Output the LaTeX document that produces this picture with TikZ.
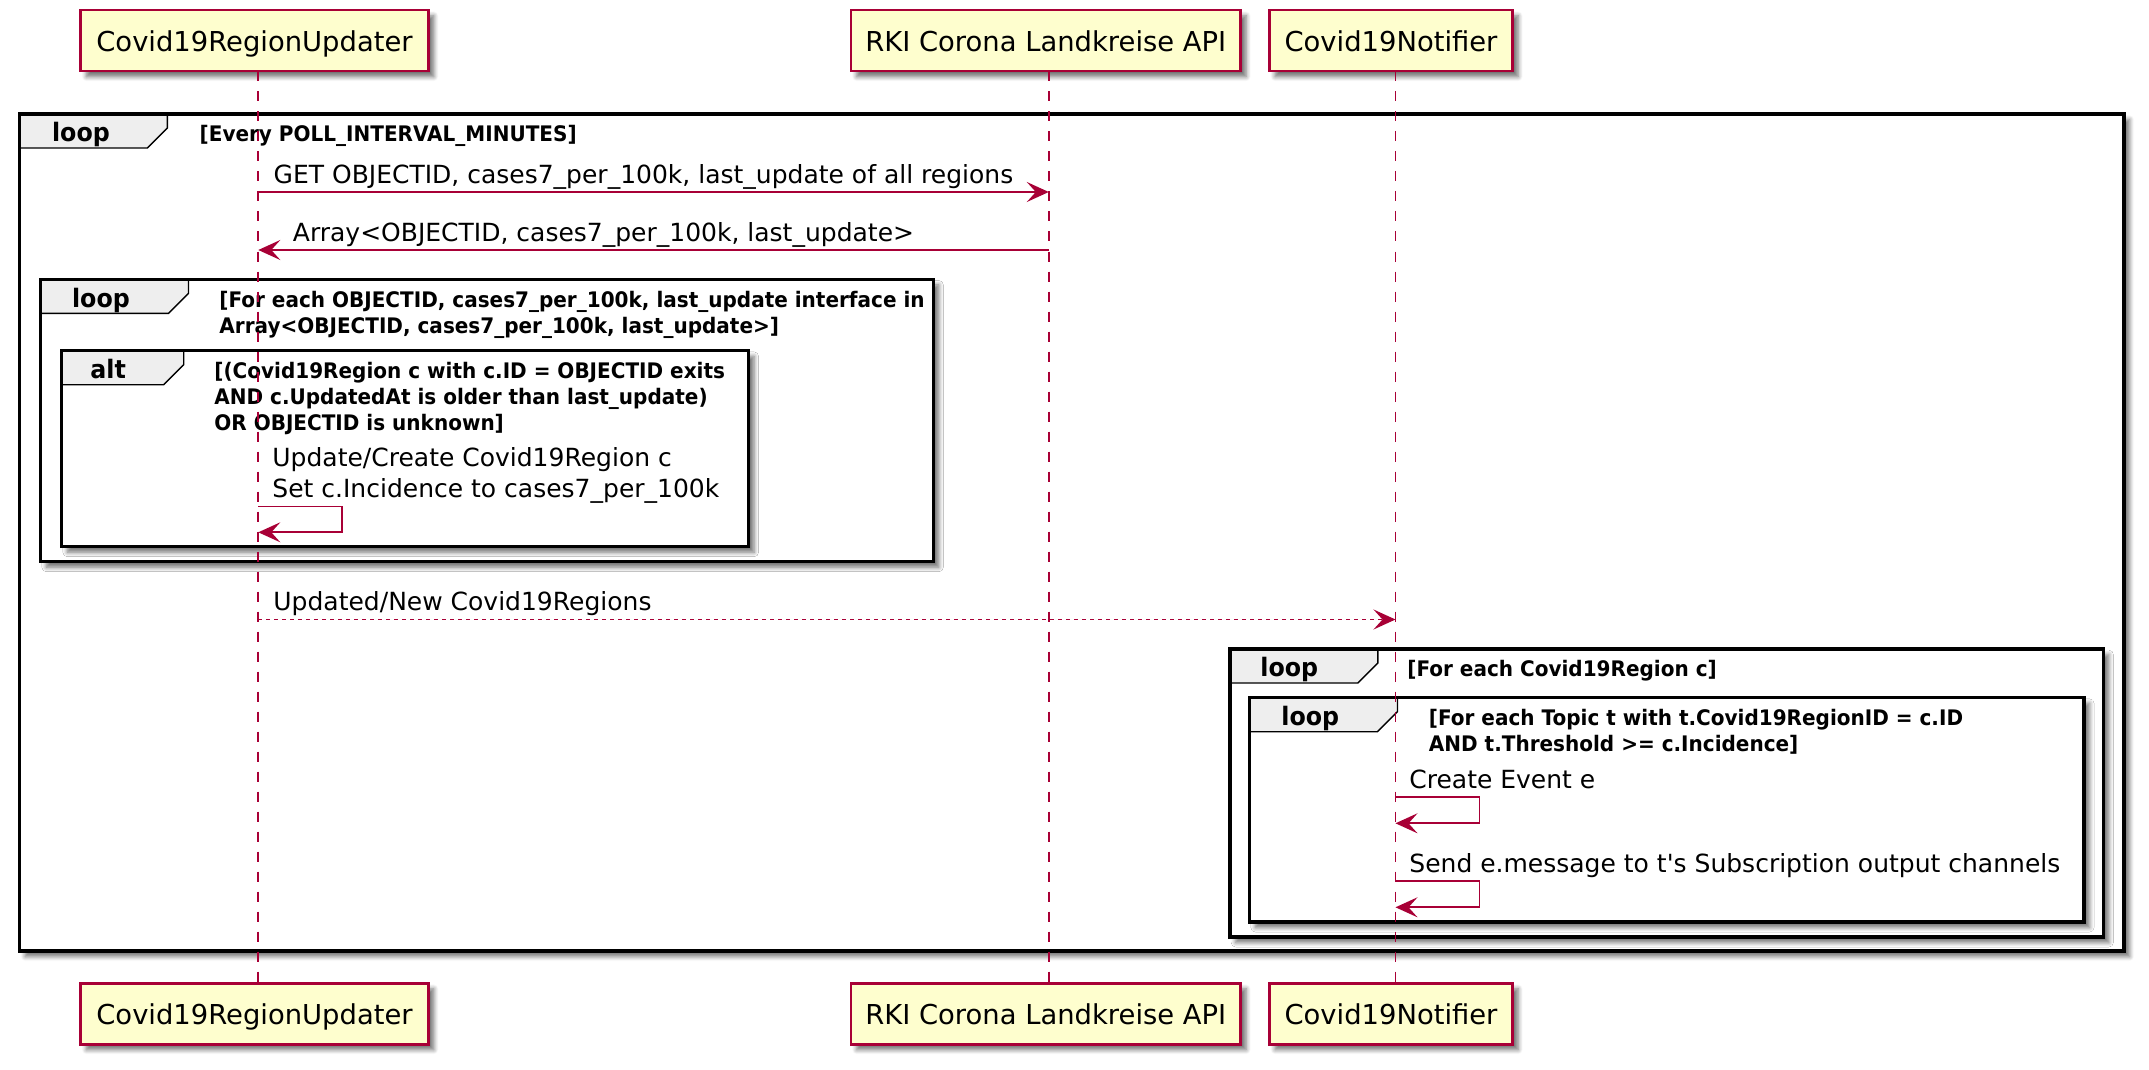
\documentclass[tikz,border=0pt]{standalone}
\usepackage{fontspec}
\setmainfont{DejaVu Sans}[Ligatures=TeXOff]
\newfontfamily\boldcond{DejaVu Sans Bold}[FakeStretch=0.935,Ligatures=TeXOff]
\usetikzlibrary{arrows.meta,shadows.blur}
\definecolor{umlred}{HTML}{A80036}
\definecolor{umlfill}{HTML}{FEFECE}
\definecolor{tabfill}{HTML}{EEEEEE}
\tikzset{
  shad/.style={blur shadow={shadow xshift=2.8pt,shadow yshift=-2.8pt,shadow blur radius=2.2pt,shadow blur steps=6,shadow opacity=55}},
  part/.style={draw=umlred,line width=1.3pt,fill=umlfill,shad,inner sep=0pt,
    minimum height=30.5pt,text height=11pt,text depth=0pt,
    font=\fontsize{13.7pt}{16pt}\selectfont},
  framebg/.style={fill=white,shad},
  frameline/.style={draw=black,line width=1.6pt},
  tabst/.style={draw=black,line width=0.7pt,fill=tabfill},
  tabtext/.style={anchor=base west,inner sep=0pt,font=\fontsize{12.7pt}{15pt}\boldcond},
  hdr/.style={anchor=base west,inner sep=0pt,font=\fontsize{10.7pt}{13pt}\boldcond},
  mtext/.style={anchor=base west,inner sep=0pt,font=\fontsize{12.5pt}{15.5pt}\selectfont},
  lifeline/.style={draw=umlred,line width=0.9pt,dash pattern=on 5pt off 5pt},
  msg/.style={draw=umlred,line width=0.9pt,-{Stealth[length=11pt,width=10pt,inset=4.5pt]}},
  dmsg/.style={msg,dash pattern=on 2pt off 2pt},
}
\begin{document}
\begin{tikzpicture}[x=0.5pt,y=-0.5pt]
\useasboundingbox (0,0) rectangle (2149,1070);

% ---------- outer loop ----------
\path[framebg] (19.6,114) rectangle (2124,951);
\draw[tabst] (19.6,114) -- (167.4,114) -- (167.4,128) -- (147.4,148) -- (19.6,148) -- cycle;
\draw[frameline] (19.6,114) rectangle (2124,951);
\node[tabtext] (g1t) at (51.7,141.7) {loop};
\node[hdr] (g1h) at (199.3,141.7) {[Every POLL\_INTERVAL\_MINUTES]};

% ---------- loop over objects ----------
\path[framebg] (40.7,279.3) rectangle (933.3,561.7);
\draw[tabst] (40.7,279.3) -- (188.5,279.3) -- (188.5,293.3) -- (168.5,313.3) -- (40.7,313.3) -- cycle;
\draw[frameline] (40.7,279.3) rectangle (933.3,561.7);
\node[tabtext] (g2t) at (71.7,307) {loop};
\node[hdr] (g2h1) at (219,307) {[For each OBJECTID, cases7\_per\_100k, last\_update interface in};
\node[hdr] (g2h2) at (219,333) {Array<OBJECTID, cases7\_per\_100k, last\_update>]};

% ---------- alt ----------
\path[framebg] (61.7,350.7) rectangle (748.5,546.7);
\draw[tabst] (61.7,350.7) -- (183.7,350.7) -- (183.7,364.7) -- (163.7,384.7) -- (61.7,384.7) -- cycle;
\draw[frameline] (61.7,350.7) rectangle (748.5,546.7);
\node[tabtext] (g3t) at (90,378.4) {alt};
\node[hdr] (g3h1) at (214,378.4) {[(Covid19Region c with c.ID = OBJECTID exits};
\node[hdr] (g3h2) at (214,404.4) {AND c.UpdatedAt is older than last\_update)};
\node[hdr] (g3h3) at (214,430.4) {OR OBJECTID is unknown]};

% ---------- notifier loop ----------
\path[framebg] (1230,649) rectangle (2103.3,937);
\draw[tabst] (1230,649) -- (1377.8,649) -- (1377.8,663) -- (1357.8,683) -- (1230,683) -- cycle;
\draw[frameline] (1230,649) rectangle (2103.3,937);
\node[tabtext] (g4t) at (1260,676.7) {loop};
\node[hdr] (g4h) at (1407,676.7) {[For each Covid19Region c]};

% ---------- topic loop ----------
\path[framebg] (1249.7,697.7) rectangle (2084,922);
\draw[tabst] (1249.7,697.7) -- (1397.5,697.7) -- (1397.5,711.7) -- (1377.5,731.7) -- (1249.7,731.7) -- cycle;
\draw[frameline] (1249.7,697.7) rectangle (2084,922);
\node[tabtext] (g5t) at (1281,725.4) {loop};
\node[hdr] (g5h1) at (1428.5,725.4) {[For each Topic t with t.Covid19RegionID = c.ID};
\node[hdr] (g5h2) at (1428.5,751.4) {AND t.Threshold >= c.Incidence]};

% ---------- participants ----------
\node[part,minimum width=173.8pt] (u1) at (254.5,40.7) {Covid19RegionUpdater};
\node[part,minimum width=194.8pt] (r1) at (1045.8,40.7) {RKI Corona Landkreise API};
\node[part,minimum width=121.6pt] (n1) at (1391,40.7) {Covid19Notifier};
\node[part,minimum width=173.8pt] (u2) at (254.5,1013.7) {Covid19RegionUpdater};
\node[part,minimum width=194.8pt] (r2) at (1045.8,1013.7) {RKI Corona Landkreise API};
\node[part,minimum width=121.6pt] (n2) at (1391,1013.7) {Covid19Notifier};

% lifeline anchors
\coordinate (uT) at (258.3,71.5);  \coordinate (uB) at (258.3,983.3);
\coordinate (rT) at (1048.8,71.5); \coordinate (rB) at (1048.8,983.3);
\coordinate (nT) at (1395.5,71.5); \coordinate (nB) at (1395.5,983.3);
\draw[lifeline] (uT) -- (uB);
\draw[lifeline] (rT) -- (rB);
\draw[lifeline] (nT) -- (nB);

% ---------- messages ----------
\coordinate (m1a) at (258.3,192); \coordinate (m1b) at (1048.8,192);
\draw[msg] (m1a) -- (m1b);
\node[mtext] (m1t) at (273.3,183.5) {GET OBJECTID, cases7\_per\_100k, last\_update of all regions};

\coordinate (m2a) at (1048.8,250); \coordinate (m2b) at (258.3,250);
\draw[msg] (m2a) -- (m2b);
\node[mtext] (m2t) at (292.5,241.5) {Array<OBJECTID, cases7\_per\_100k, last\_update>};

\coordinate (s1a) at (258.3,506.4); \coordinate (s1r) at (342.3,506.4); \coordinate (s1b) at (258.3,532.3);
\draw[msg] (s1a) -- (s1r) |- (s1b);
\node[mtext] (s1t1) at (272,466.5) {Update/Create Covid19Region c};
\node[mtext] (s1t2) at (272,497.5) {Set c.Incidence to cases7\_per\_100k};

\coordinate (m3a) at (258.3,619.5); \coordinate (m3b) at (1395.5,619.5);
\draw[dmsg] (m3a) -- (m3b);
\node[mtext] (m3t) at (273,610.5) {Updated/New Covid19Regions};

\coordinate (s2a) at (1395.5,797.3); \coordinate (s2r) at (1479.5,797.3); \coordinate (s2b) at (1395.5,823.3);
\draw[msg] (s2a) -- (s2r) |- (s2b);
\node[mtext] (s2t) at (1409,788.3) {Create Event e};

\coordinate (s3a) at (1395.5,881.3); \coordinate (s3r) at (1479.5,881.3); \coordinate (s3b) at (1395.5,907.3);
\draw[msg] (s3a) -- (s3r) |- (s3b);
\node[mtext] (s3t) at (1409,872.3) {Send e.message to t's Subscription output channels};
\end{tikzpicture}
\end{document}
